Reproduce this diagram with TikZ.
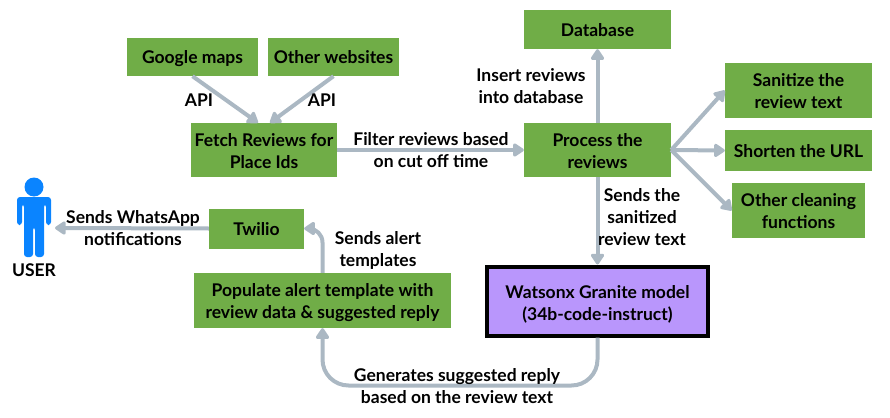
\documentclass[tikz,border=0pt]{standalone}
\usepackage{fontspec}
\setmainfont{Lato}
\usetikzlibrary{arrows.meta}

\definecolor{boxgreen}{HTML}{70AD47}
\definecolor{modelpurple}{HTML}{B996FC}
\definecolor{arrowgrey}{HTML}{ABB8C3}
\definecolor{usericon}{HTML}{0A84FF}

\tikzset{
    stepbox/.style={fill=boxgreen, draw=none, align=center, inner sep=0pt, font=\fontsize{17.5}{22}\selectfont\bfseries,
        execute at begin node={\rule{0pt}{18pt}}, execute at end node={\rule[-4pt]{0pt}{4pt}}},
    twolines/.style={stepbox, execute at begin node={\rule{0pt}{40pt}}},
    modelbox/.style={stepbox, fill=modelpurple, draw=black, line width=4pt, execute at begin node={\rule{0pt}{43pt}}},
    flow/.style={draw=arrowgrey, line width=4pt, -{Triangle[round, length=12pt, width=15pt]}},
    caption/.style={align=center, inner sep=0pt, font=\fontsize{17.5}{22}\selectfont\bfseries},
}

\begin{document}
\begin{tikzpicture}[x=1pt, y=-1pt]
    \useasboundingbox (0,0) rectangle (890,417);

    % boxes
    \node[stepbox, minimum width=131pt, minimum height=38pt] (google) at (192.5,57) {Google maps};
    \node[stepbox, minimum width=131pt, minimum height=38pt] (other) at (333.5,57) {Other websites};
    \node[twolines, minimum width=146pt, minimum height=54pt] (fetch) at (264,150) {Fetch Reviews for\\Place Ids};
    \node[twolines, minimum width=147pt, minimum height=54pt] (process) at (597.5,150) {Process the\\reviews};
    \node[stepbox, minimum width=147pt, minimum height=39pt] (database) at (597.5,29.5) {Database};
    \node[twolines, minimum width=147pt, minimum height=55pt] (sanitize) at (798.5,90.5) {Sanitize the\\review text};
    \node[stepbox, minimum width=147pt, minimum height=41pt] (shorten) at (798.5,150.5) {Shorten the URL};
    \node[twolines, minimum width=133pt, minimum height=55pt] (cleaning) at (798.5,210.5) {Other cleaning\\functions};
    \node[stepbox, minimum width=95pt, minimum height=40pt] (twilio) at (256.5,228.5) {Twilio};
    \node[twolines, minimum width=257pt, minimum height=55pt] (populate) at (322.5,300.5) {Populate alert template with\\review data \& suggested reply};
    \node[modelbox, minimum width=221pt, minimum height=69pt] (model) at (597.5,301) {Watsonx Granite model\\(34b-code-instruct)};

    % user icon
    \fill[usericon] (34,187) circle (9.5);
    \fill[usericon, rounded corners=3pt] (17,225) -- (17,197) -- (51,197) -- (51,225) -- (46,225) -- (46,204) -- (44,204)
        -- (44,257) -- (35,257) -- (35,227) -- (33,227) -- (33,257) -- (24,257) -- (24,204) -- (22,204) -- (22,225) -- cycle;
    \coordinate (user) at (55,228);
    \node[caption] (userlabel) at (34,270) {USER};

    % connectors
    \path[flow] (google.south) -- ([xshift=-6pt]fetch.north);
    \path[flow] (other.south) -- ([xshift=6pt]fetch.north);
    \path[flow] (fetch.east) -- (process.west);
    \path[flow] (process.north) -- (database.south);
    \path[flow] (process.east) -- (sanitize.west);
    \path[flow] (process.east) -- (shorten.west);
    \path[flow] (process.east) -- (cleaning.west);
    \path[flow] (process.south) -- (model.north);
    \path[flow] (twilio.west) -- (user);
    \path[flow, rounded corners=14pt] (populate.north) |- (twilio.east);
    \path[flow, rounded corners=26pt] (model.south) -- ++(0,48) -| (populate.south);

    % labels
    \node[caption] (apileft) at (199,100) {API};
    \node[caption] (apiright) at (322,100) {API};
    \node[caption] (filter) at (431,150) {Filter reviews based\\on cut off time};
    \node[caption] (insert) at (531,86) {Insert reviews\\into database};
    \node[caption] (sends) at (642,217) {Sends the\\sanitized\\review text};
    \node[caption] (whatsapp) at (133,228) {Sends WhatsApp\\notifications};
    \node[caption] (templates) at (378,250) {Sends alert\\templates};
    \node[caption] (generates) at (457,386) {Generates suggested reply\\based on the review text};
\end{tikzpicture}
\end{document}
